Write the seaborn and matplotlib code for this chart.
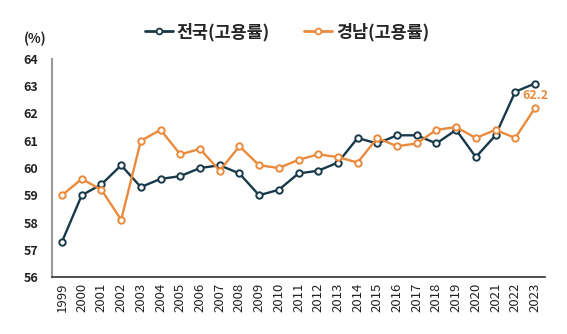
import matplotlib
matplotlib.use("Agg")
import matplotlib.pyplot as plt
import seaborn as sns
import pandas as pd
from matplotlib.lines import Line2D

years = list(range(1999, 2024))
national = [57.3, 59.0, 59.4, 60.1, 59.3, 59.6, 59.7, 60.0, 60.1, 59.8, 59.0, 59.2,
            59.8, 59.9, 60.2, 61.1, 60.9, 61.2, 61.2, 60.9, 61.4, 60.4, 61.2, 62.8, 63.1]
gyeongnam = [59.0, 59.6, 59.2, 58.1, 61.0, 61.4, 60.5, 60.7, 59.9, 60.8, 60.1, 60.0,
             60.3, 60.5, 60.4, 60.2, 61.1, 60.8, 60.9, 61.4, 61.5, 61.1, 61.4, 61.1, 62.2]
series_names = ["전국(고용률)", "경남(고용률)"]
colors = ["#17394a", "#ea8a3c"]
last_label = "62.2"

sns.set_theme(style="white")
plt.rcParams['font.family'] = ['Noto Sans CJK KR', 'DejaVu Sans']

df = pd.DataFrame({
    "year": years * 2,
    "value": national + gyeongnam,
    "series": [series_names[0]] * len(years) + [series_names[1]] * len(years),
})

fig = plt.figure(figsize=(5.67, 3.34), dpi=100)
ax = fig.add_axes([52/567, 1-277/334, (545-52)/567, (277-59)/334])

sns.lineplot(data=df, x="year", y="value", hue="series", palette=colors,
             marker="o", markersize=4.6, markerfacecolor="white", markeredgewidth=1.4,
             linewidth=1.7, ax=ax, legend=False)
for line, c in zip(ax.get_lines(), colors):
    line.set_markeredgecolor(c)

ax.set_xlim(1998.49, 2023.51)
ax.set_ylim(56, 64)
ax.set_yticks(range(56, 65))
ax.set_xticks(years)
ax.set_xticklabels([str(y) for y in years], rotation=90, fontsize=9.5, color="#222222")
ax.set_yticklabels([str(v) for v in range(56, 65)], fontsize=9, fontweight="bold", color="#222222")
ax.tick_params(axis="x", length=0, pad=4)
ax.tick_params(axis="y", length=0, pad=10)
ax.set_xlabel("")
ax.set_ylabel("")

for s in ["top", "right"]:
    ax.spines[s].set_visible(False)
ax.spines["left"].set_color("#999999")
ax.spines["left"].set_linewidth(1.5)
ax.spines["bottom"].set_color("#333333")
ax.spines["bottom"].set_linewidth(1.2)

ax.annotate(last_label, xy=(years[-1], gyeongnam[-1]), xytext=(0, 9),
            textcoords="offset points", ha="center", va="center",
            fontsize=9, fontweight="bold", color=colors[1])

fig.text(24/567, 1-39/334, "(%)", fontsize=9.5, fontweight="bold", color="#222222",
         ha="left", va="center")

handles = [Line2D([], [], color=c, marker="o", markersize=4.2, markerfacecolor="white",
                  markeredgecolor=c, markeredgewidth=1.3, linewidth=2.0) for c in colors]
fig.legend(handles, series_names, loc="center", bbox_to_anchor=(287/567, 1-32/334),
           ncol=2, frameon=False, prop={"size": 12.5, "weight": "bold"},
           handlelength=1.6, handletextpad=0.2, columnspacing=2.0)

fig.savefig("out.png", dpi=100)
